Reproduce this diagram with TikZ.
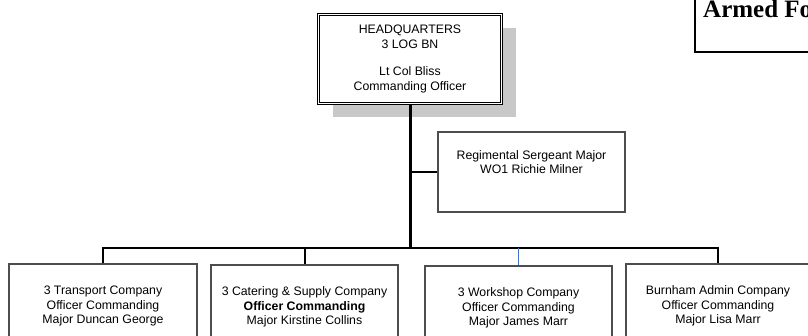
\documentclass[tikz,border=0pt]{standalone}
\usepackage{fontspec}
\setmainfont{Liberation Sans}
\newfontfamily\titlefont{Liberation Serif}
\usetikzlibrary{shadows}
\definecolor{boxgray}{HTML}{4D4D4D}
\definecolor{shadowgray}{HTML}{C8C8C8}
\definecolor{linkblue}{HTML}{4472C4}

\begin{document}
\begin{tikzpicture}[x=1pt,y=-1pt,
  every node/.style={font=\fontsize{12.3}{14.5}\selectfont, align=center},
  unit/.style={draw=boxgray, line width=1.2pt, minimum width=187pt, minimum height=84pt},
  link/.style={line width=2pt},
  trunk/.style={line width=3pt}]
  \path[use as bounding box, clip] (0,0) rectangle (808,336);

  % top row
  \node[draw, double, double distance=1.6pt, line width=0.8pt, fill=white,
    minimum width=183pt, minimum height=89pt,
    drop shadow={shadow xshift=14pt, shadow yshift=-14pt, fill=shadowgray, opacity=1}]
    (hq) at (410,59) {HEADQUARTERS\\3 LOG BN\\[13pt]Lt Col Bliss\\Commanding Officer};
  \node[unit, minimum height=80pt, text depth=20pt] (rsm) at (531.5,172)
    {Regimental Sergeant Major\\WO1 Richie Milner};
  \node[draw, line width=1.8pt, minimum width=140pt, minimum height=80pt, anchor=south west]
    (armed) at (694,53) {};
  \node[font=\titlefont\bfseries\fontsize{25}{27}\selectfont, anchor=base west, inner sep=0pt]
    (armedtitle) at (703,18) {Armed Fo};

  % companies
  \node[unit, minimum width=188pt] (tpt) at (103,306)
    {3 Transport Company\\Officer Commanding\\Major Duncan George};
  \node[unit] (csc) at (304.5,307)
    {3 Catering \& Supply Company\\\textbf{Officer Commanding}\\Major Kirstine Collins};
  \node[unit] (wks) at (518.5,308)
    {3 Workshop Company\\Officer Commanding\\Major James Marr};
  \node[unit, minimum width=184pt] (bam) at (718,306)
    {Burnham Admin Company\\Officer Commanding\\Major Lisa Marr};

  % lines
  \coordinate (bus) at (0,248);
  \draw[link] (tpt.north) -- (tpt.north |- bus) -- (bam.north |- bus) -- (bam.north);
  \draw[link] (csc.north) -- (csc.north |- bus);
  \draw[linkblue, line width=0.8pt] (wks.north) -- (wks.north |- bus);
  \draw[trunk] (hq.south) -- (hq.south |- bus);
  \draw[link] (rsm.west) -- (rsm.west -| hq.south);
\end{tikzpicture}
\end{document}
